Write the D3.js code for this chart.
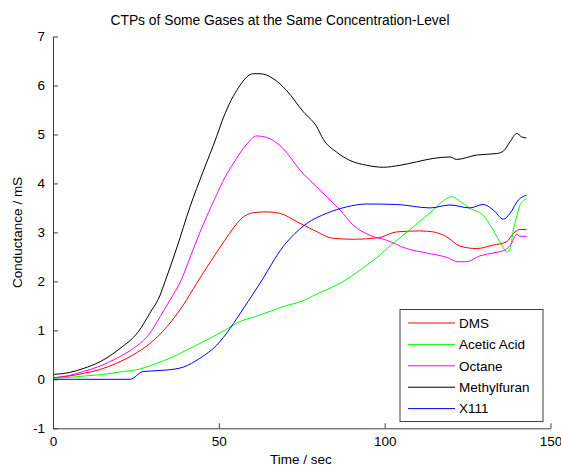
<!DOCTYPE html>
<html>
<head>
<meta charset="utf-8">
<script src="https://cdn.jsdelivr.net/npm/d3@7"></script>
<style>
  body { margin: 0; background: #fff; }
  svg text { font-family: Arial, "Liberation Sans", sans-serif; fill: #000; }
</style>
</head>
<body>
<div id="chart"></div>
<script>
// readings, [time (sec), conductance (mS)]
var dms = [[0,0.03],[5,0.07],[9.1,0.12],[14.2,0.20],[19.2,0.33],[24.2,0.50],[29.2,0.73],[34.3,1.07],[39.3,1.52],[43.3,1.96],[47.5,2.4],[51.8,2.84],[54.5,3.1],[56.9,3.29],[60.4,3.40],[64.4,3.42],[68.4,3.39],[73.5,3.22],[78.5,3.05],[84.5,2.88],[90.5,2.86],[98.1,2.89],[103.6,3.01],[110.6,3.03],[114.7,3.01],[118.7,2.91],[122.7,2.72],[127.7,2.67],[132.7,2.74],[136.8,2.81],[138.8,2.98],[140.8,3.06],[142.8,3.06]];
var aceticAcid = [[0,0.02],[5,0.04],[10,0.07],[15,0.10],[21.2,0.16],[26.2,0.21],[31,0.32],[36.2,0.46],[41,0.62],[46.3,0.80],[51,0.97],[56.4,1.18],[61,1.28],[66.4,1.41],[70,1.50],[74.5,1.58],[79.5,1.74],[86.5,1.96],[92.6,2.23],[98.6,2.54],[103,2.80],[108.6,3.11],[114.7,3.46],[118,3.66],[120.2,3.73],[123,3.62],[125.7,3.49],[129.7,3.35],[132.7,3.05],[135.3,2.74],[136.8,2.60],[137.8,2.67],[138.8,3.05],[139.8,3.32],[140.8,3.56],[142.8,3.69]];
var octane = [[0,0.03],[5,0.08],[9.1,0.16],[14.2,0.27],[19.2,0.43],[24.2,0.63],[29.2,0.94],[32.3,1.28],[35.3,1.62],[38.8,2.05],[41.5,2.52],[44.3,3.00],[49.4,3.78],[51.8,4.12],[54.4,4.41],[58.4,4.80],[61.4,4.97],[64.4,4.94],[69.4,4.71],[74.5,4.27],[79.5,3.93],[82.5,3.73],[86.5,3.46],[90.5,3.15],[95.6,2.94],[100.6,2.84],[106.6,2.67],[112.6,2.58],[118.7,2.49],[122.2,2.40],[124.7,2.40],[128.7,2.52],[132.7,2.58],[136.3,2.64],[138.3,2.78],[139.8,2.96],[140.8,2.92],[142.8,2.92]];
var methylfuran = [[0,0.10],[5,0.14],[9.1,0.22],[14.2,0.36],[20.2,0.63],[25.7,0.97],[29.2,1.35],[32.3,1.72],[33.8,2.00],[37.3,2.68],[41.3,3.52],[45.3,4.25],[49.3,4.95],[50.9,5.26],[55.4,5.90],[60.4,6.24],[62.4,6.24],[66.4,6.14],[70.4,5.90],[75.5,5.46],[79.5,5.16],[81.5,4.90],[85.5,4.64],[89.5,4.47],[94.6,4.37],[99.6,4.33],[104.6,4.37],[109.6,4.44],[114.6,4.51],[119.7,4.54],[121.7,4.49],[127.7,4.58],[133.8,4.61],[135.8,4.66],[137.8,4.85],[139.8,5.02],[141.3,4.95],[142.7,4.93]];
var x111 = [[0,0],[23.2,0],[27.2,0.16],[34.3,0.19],[39.3,0.25],[44.3,0.43],[49.4,0.70],[53.4,1.04],[55.4,1.24],[62.4,1.96],[69.4,2.71],[76.5,3.18],[82.5,3.39],[88.5,3.52],[94.6,3.58],[103.6,3.57],[113.7,3.50],[119.7,3.56],[125.7,3.50],[129.7,3.57],[132.7,3.46],[135.8,3.27],[137.8,3.39],[140.3,3.66],[142.8,3.76]];

var seriesNames = ["DMS", "Acetic Acid", "Octane", "Methylfuran", "X111"];
var seriesColors = ["#ff0000", "#00ff00", "#ff00ff", "#000000", "#0000ff"];
var seriesData = [dms, aceticAcid, octane, methylfuran, x111];
var xTicks = [0, 50, 100, 150];
var yTicks = [-1, 0, 1, 2, 3, 4, 5, 6, 7];

var W = 561, H = 466;
var margin = {top: 36.5, left: 53, right: 10.5, bottom: 37.7};
var width = W - margin.left - margin.right,
    height = H - margin.top - margin.bottom;

var svg = d3.select("#chart").append("svg")
    .attr("width", W).attr("height", H);

var g = svg.append("g")
    .attr("transform", "translate(" + margin.left + "," + margin.top + ")");

var x = d3.scaleLinear().domain([0, 150]).range([0, width]);
var y = d3.scaleLinear().domain([-1, 7]).range([height, 0]);

// lines
var line = d3.line()
    .x(function(d) { return x(d[0]); })
    .y(function(d) { return y(d[1]); })
    .curve(d3.curveMonotoneX);

seriesData.forEach(function(s, i) {
    g.append("path")
        .datum(s)
        .attr("d", line)
        .style("fill", "none")
        .style("stroke", seriesColors[i])
        .style("stroke-width", 1);
});

// axes, matlab style: ticks pointing in, plain hyphen for minus
var xAxis = g.append("g")
    .attr("transform", "translate(0," + height + ")")
    .call(d3.axisBottom(x).tickValues(xTicks).tickFormat(String)
        .tickSizeInner(-5).tickSizeOuter(0).tickPadding(8));
var yAxis = g.append("g")
    .call(d3.axisLeft(y).tickValues(yTicks).tickFormat(String)
        .tickSizeInner(-5).tickSizeOuter(0).tickPadding(8));

[xAxis, yAxis].forEach(function(a) {
    a.select(".domain").attr("stroke", "#404040");
    a.selectAll(".tick line").attr("stroke", "#404040");
    a.selectAll("text").style("font-size", "13.5px").style("font-family", "Arial, 'Liberation Sans', sans-serif");
});

// title and labels
svg.append("text")
    .attr("x", 280)
    .attr("y", 25)
    .attr("text-anchor", "middle")
    .style("font-size", "13.8px")
    .text("CTPs of Some Gases at the Same Concentration-Level");

svg.append("text")
    .attr("x", 301)
    .attr("y", 464)
    .attr("text-anchor", "middle")
    .style("font-size", "13.5px")
    .text("Time / sec");

svg.append("text")
    .attr("transform", "translate(22," + (margin.top + height / 2) + ") rotate(-90)")
    .attr("text-anchor", "middle")
    .style("font-size", "13.5px")
    .text("Conductance / mS");

// legend
var legend = svg.append("g").attr("transform", "translate(400,309.5)");
legend.append("rect")
    .attr("width", 143).attr("height", 112)
    .attr("fill", "#fff").attr("stroke", "#404040");

var rows = legend.selectAll(".row")
    .data(seriesNames)
    .enter().append("g")
    .attr("transform", function(d, i) { return "translate(0," + (13.5 + i * 21.4) + ")"; });

rows.append("line")
    .attr("x1", 8).attr("x2", 55)
    .attr("stroke", function(d, i) { return seriesColors[i]; });

rows.append("text")
    .attr("x", 59)
    .attr("dy", "0.35em")
    .style("font-size", "13.5px")
    .text(function(d) { return d; });
</script>
</body>
</html>
